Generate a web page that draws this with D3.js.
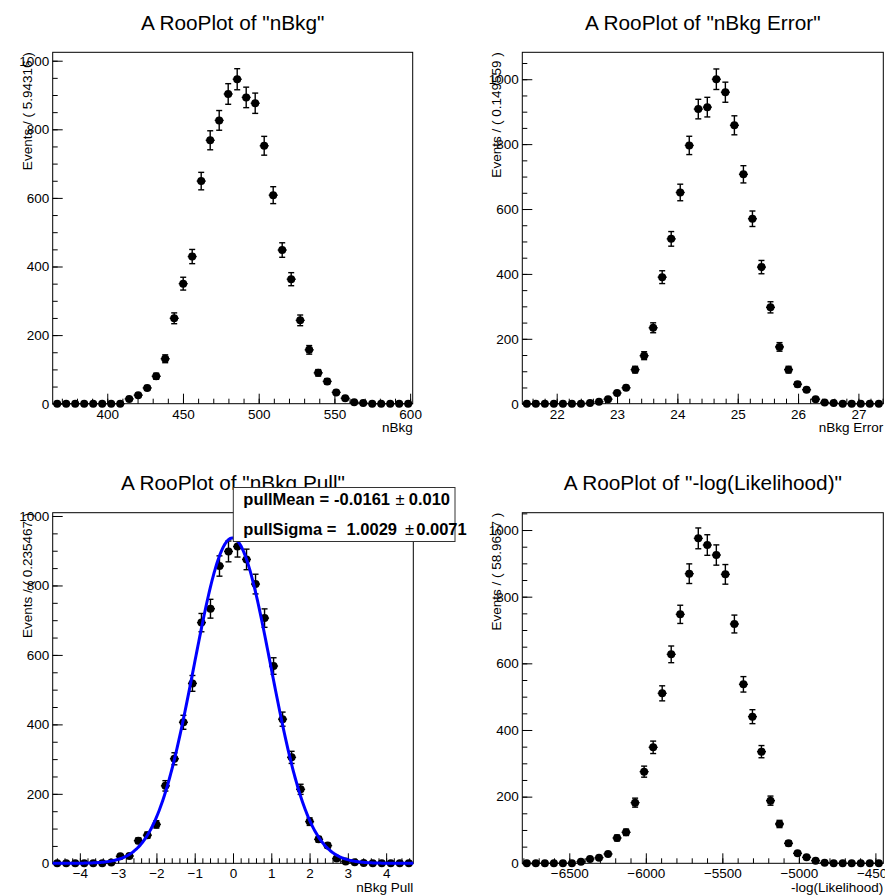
<!DOCTYPE html>
<html>
<head>
<meta charset="utf-8">
<script src="https://cdn.jsdelivr.net/npm/d3@7"></script>
<style>
  body { margin: 0; background: #fff; }
  svg { display: block; }
  text { font-family: "Liberation Sans", Arial, Helvetica, sans-serif; fill: #000; }
</style>
</head>
<body>
<svg id="canvas" width="885" height="895"></svg>
<script>
// ---- toy study results: 40 bins per histogram ----
const nBkgCounts = [0, 0, 0, 0, 0, 0, 0, 0, 14, 25, 46, 80, 131, 249, 350, 429, 649, 768, 826, 903,
                    946, 893, 876, 752, 608, 448, 363, 243, 157, 90, 65, 33, 16, 4, 2, 0, 0, 0, 0, 0];
const nBkgErrorCounts = [0, 0, 0, 0, 0, 0, 0, 2, 6, 14, 33, 49, 105, 148, 234, 390, 508, 651, 796, 908,
                         914, 1000, 960, 858, 707, 570, 421, 297, 175, 105, 60, 43, 14, 4, 2, 0, 0, 0, 0, 0];
const nBkgPullCounts = [0, 0, 0, 0, 0, 0, 2, 20, 21, 65, 81, 112, 223, 301, 406, 518, 693, 733, 856, 898,
                        912, 875, 804, 706, 568, 415, 305, 213, 120, 69, 51, 14, 5, 3, 1, 0, 0, 0, 0, 0];
const nllCounts = [0, 0, 0, 0, 0, 0, 5, 13, 17, 28, 76, 93, 182, 275, 348, 510, 627, 747, 869, 975,
                   955, 925, 867, 718, 537, 440, 335, 188, 118, 60, 30, 18, 8, 2, 0, 0, 0, 0, 0, 0];

// axis ranges (low edge, bin width) and vertical maxima
const xLowEdges = [363.97, 21.43, -4.70934, -6807.0];
const binWidths = [5.94316, 0.149559, 0.235467, 58.9657];
const yMaxima = [1024.5, 1083, 1009.5, 1052];

// titles
const plotTitles = ['A RooPlot of "nBkg"', 'A RooPlot of "nBkg Error"', 'A RooPlot of "nBkg Pull"', 'A RooPlot of "-log(Likelihood)"'];
const xTitles = ['nBkg', 'nBkg Error', 'nBkg Pull', '-log(Likelihood)'];
const yTitles = ['Events / ( 5.94316 )', 'Events / ( 0.149559 )', 'Events / ( 0.235467 )', 'Events / ( 58.9657 )'];

// tick steps (major, minor) per axis
const xMajorSteps = [50, 1, 1, 500];
const xMinorSteps = [10, 0.2, 0.2, 100];
const yMajorStep = 200, yMinorStep = 50;

// Gaussian fit to the pull distribution
const nToys = 10000;
const pullMean = -0.0161, pullMeanErr = 0.010;
const pullSigma = 1.0029, pullSigmaErr = 0.0071;

const allCounts = [nBkgCounts, nBkgErrorCounts, nBkgPullCounts, nllCounts];

// ---- layout ----
const frames = [
  { left: 52.7,  top: 52.3,  right: 412.7, bottom: 403.7 },
  { left: 522.3, top: 52.3,  right: 883.3, bottom: 403.7 },
  { left: 52.7,  top: 512.7, right: 413.3, bottom: 863.3 },
  { left: 522.3, top: 512.7, right: 883.3, bottom: 863.3 }
];
const FONT = 13.5;
const MAJOR_TICK = 10, MINOR_TICK = 5;

const svg = d3.select('#canvas');

function stepValues(lo, hi, step) {
  const out = [];
  const start = Math.ceil(lo / step - 1e-9);
  for (let k = start; k * step <= hi + 1e-9; k++) out.push(+(k * step).toFixed(6));
  return out;
}

frames.forEach((f, p) => {
  const counts = allCounts[p];
  const bw = binWidths[p];
  const x0 = xLowEdges[p];
  const x1 = x0 + bw * counts.length;
  const x = d3.scaleLinear().domain([x0, x1]).range([f.left, f.right]);
  const y = d3.scaleLinear().domain([0, yMaxima[p]]).range([f.bottom, f.top]);
  const g = svg.append('g');

  // title
  g.append('text')
    .attr('x', (f.left + f.right) / 2).attr('y', f.top - 22.5)
    .attr('text-anchor', 'middle').style('font-size', '20.8px')
    .text(plotTitles[p]);

  // frame
  g.append('rect')
    .attr('x', f.left).attr('y', f.top)
    .attr('width', f.right - f.left).attr('height', f.bottom - f.top)
    .attr('fill', 'none').attr('stroke', '#000').attr('stroke-width', 1);

  const fmt = d3.format('d');

  // x axis: minor then major ticks pointing inward
  const xMinor = stepValues(x0, x1, xMinorSteps[p]);
  const xMajor = stepValues(x0, x1, xMajorSteps[p]);
  const gxMinor = g.append('g').attr('transform', `translate(0,${f.bottom})`)
    .call(d3.axisBottom(x).tickValues(xMinor).tickSizeInner(-MINOR_TICK).tickSizeOuter(0).tickFormat(''));
  const gx = g.append('g').attr('transform', `translate(0,${f.bottom})`)
    .call(d3.axisBottom(x).tickValues(xMajor).tickSizeInner(-MAJOR_TICK).tickSizeOuter(0)
      .tickPadding(5.5).tickFormat(fmt));

  // y axis
  const yMinor = stepValues(0, yMaxima[p], yMinorStep);
  const yMajor = stepValues(0, yMaxima[p], yMajorStep);
  const gyMinor = g.append('g').attr('transform', `translate(${f.left},0)`)
    .call(d3.axisLeft(y).tickValues(yMinor).tickSizeInner(-MINOR_TICK).tickSizeOuter(0).tickFormat(''));
  const gy = g.append('g').attr('transform', `translate(${f.left},0)`)
    .call(d3.axisLeft(y).tickValues(yMajor).tickSizeInner(-MAJOR_TICK).tickSizeOuter(0)
      .tickPadding(3.5).tickFormat(fmt));

  [gxMinor, gx, gyMinor, gy].forEach(a => {
    a.select('.domain').remove();
    a.selectAll('line').attr('stroke', '#000').attr('stroke-width', 1);
    a.selectAll('text').style('font-size', FONT + 'px')
      .style('font-family', '"Liberation Sans", Arial, Helvetica, sans-serif').attr('fill', '#000');
  });

  // axis titles
  g.append('text')
    .attr('x', f.right).attr('y', f.bottom + 28.5)
    .attr('text-anchor', 'end').style('font-size', FONT + 'px')
    .text(xTitles[p]);
  g.append('text')
    .attr('transform', `translate(${f.left - 21},${f.top}) rotate(-90)`)
    .attr('text-anchor', 'end').style('font-size', FONT + 'px')
    .text(yTitles[p]);

  // data points with error bars
  const pts = counts.map((c, i) => ({ lo: x0 + i * bw, hi: x0 + (i + 1) * bw, c: c, e: Math.sqrt(c) }));
  const dg = g.append('g').attr('stroke', '#000').attr('stroke-width', 1.4);
  const cap = 3;
  pts.forEach(d => {
    const cx = x((d.lo + d.hi) / 2);
    dg.append('line').attr('x1', x(d.lo)).attr('x2', x(d.hi)).attr('y1', y(d.c)).attr('y2', y(d.c));
    if (d.e > 0) {
      const yt = y(d.c + d.e), yb = y(d.c - d.e);
      dg.append('line').attr('x1', cx).attr('x2', cx).attr('y1', yt).attr('y2', yb);
      dg.append('line').attr('x1', cx - cap).attr('x2', cx + cap).attr('y1', yt).attr('y2', yt);
      dg.append('line').attr('x1', cx - cap).attr('x2', cx + cap).attr('y1', yb).attr('y2', yb);
    }
    dg.append('circle').attr('cx', cx).attr('cy', y(d.c)).attr('r', 4)
      .attr('fill', '#000').attr('stroke', 'none');
  });

  // Gaussian fit curve on the pull plot
  if (p === 2) {
    const norm = nToys * bw / (Math.sqrt(2 * Math.PI) * pullSigma);
    const gauss = v => norm * Math.exp(-0.5 * Math.pow((v - pullMean) / pullSigma, 2));
    const xs = d3.range(0, 401).map(k => x0 + (x1 - x0) * k / 400);
    g.append('path')
      .datum(xs)
      .attr('fill', 'none').attr('stroke', '#0000ff').attr('stroke-width', 3)
      .attr('d', d3.line().x(v => x(v)).y(v => y(gauss(v))));

    // fit parameter box
    const box = { left: 233.3, top: 487.5, right: 455, bottom: 541.5 };
    g.append('rect')
      .attr('x', box.left).attr('y', box.top)
      .attr('width', box.right - box.left).attr('height', box.bottom - box.top)
      .attr('fill', '#fff').attr('stroke', '#333').attr('stroke-width', 1);
    const rows = [
      { label: 'pullMean =', value: pullMean.toFixed(4), err: pullMeanErr.toFixed(3),
        y: 505, valueEnd: 390, pm: 400, errEnd: 450 },
      { label: 'pullSigma =', value: pullSigma.toFixed(4), err: pullSigmaErr.toFixed(4),
        y: 534.5, valueEnd: 397, pm: 409.5, errEnd: 466.7 }
    ];
    rows.forEach(r => {
      const t = (xx, anchor, txt, weight) => g.append('text')
        .attr('x', xx).attr('y', r.y).attr('text-anchor', anchor)
        .style('font-size', '16.5px').style('font-weight', weight).text(txt);
      t(box.left + 10, 'start', r.label, 'bold');
      t(r.valueEnd, 'end', r.value, 'bold');
      t(r.pm, 'middle', '\u00b1', 'normal');
      t(r.errEnd, 'end', r.err, 'bold');
    });
  }
});
</script>
</body>
</html>
